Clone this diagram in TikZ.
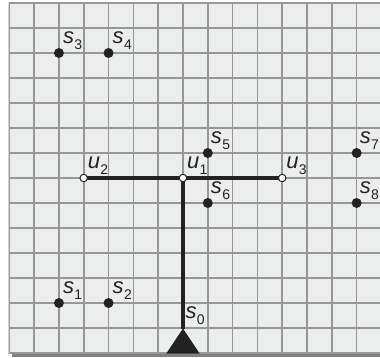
\documentclass[tikz,border=0pt]{standalone}
\usepackage{fontspec}
\setmainfont{Liberation Sans}
\newcommand\lab[2]{{\fontsize{22}{22}\selectfont\itshape #1}\kern0.3pt\raisebox{-6pt}{\fontsize{14}{14}\selectfont #2}}
\definecolor{bgc}{HTML}{ECEDED}
\definecolor{gridc}{HTML}{979797}
\definecolor{inkc}{HTML}{222222}
\tikzset{
  gridline/.style={draw=gridc, line width=1.6pt},
  dot/.style={circle, fill=inkc, inner sep=0pt, minimum size=10pt},
  hollow/.style={circle, draw=inkc, fill=white, line width=1pt, inner sep=0pt, minimum size=7.5pt},
  thickline/.style={draw=inkc, line width=3.4pt},
  lbl/.style={inner sep=0pt, anchor=base west, text=inkc},
}
\begin{document}
\begin{tikzpicture}[x=1pt,y=1pt]
\useasboundingbox (0,0) rectangle (380,-357);
\begin{scope}[shift={(9.3,-3)}, x=24.81pt, y=-25pt]
  % shadow
  \fill[gridc!85!black] (0.1,14) rectangle (15.5,14.14);
  \fill[gridc!40!white] (-0.07,0) rectangle (0,14.1);
  \fill[bgc] (0,0) rectangle (15.5,14);
  \foreach \i in {0,...,15} \draw[gridline] (\i,0) -- (\i,14);
  \foreach \j in {0,...,14} \draw[gridline] (0,\j) -- (15.5,\j);
  % points
  \node[dot] (s1) at (2,12) {};
  \node[dot] (s2) at (4,12) {};
  \node[dot] (s3) at (2,2) {};
  \node[dot] (s4) at (4,2) {};
  \node[dot] (s5) at (8,6) {};
  \node[dot] (s6) at (8,8) {};
  \node[dot] (s7) at (14,6) {};
  \node[dot] (s8) at (14,8) {};
  \coordinate (s0) at (7,13.02);
  \coordinate (u1c) at (7,7);
  \coordinate (u2c) at (3,7);
  \coordinate (u3c) at (11,7);
  \draw[thickline] (u2c) -- (u3c);
  \draw[thickline] (u1c) -- (s0);
  \fill[inkc] (s0) -- ++(-16.7pt,-25pt) -- ++(33.4pt,0pt) -- cycle;
  \node[hollow] (u1) at (u1c) {};
  \node[hollow] (u2) at (u2c) {};
  \node[hollow] (u3) at (u3c) {};
  % labels
  \node[lbl] (l1) at ([shift={(4pt,10pt)}]s1.center) {\lab{s}{1}};
  \node[lbl] (l2) at ([shift={(4pt,10pt)}]s2.center) {\lab{s}{2}};
  \node[lbl] (l3) at ([shift={(4pt,10pt)}]s3.center) {\lab{s}{3}};
  \node[lbl] (l4) at ([shift={(4pt,10pt)}]s4.center) {\lab{s}{4}};
  \node[lbl] (l5) at ([shift={(3pt,10pt)}]s5.center) {\lab{s}{5}};
  \node[lbl] (l6) at ([shift={(3pt,10pt)}]s6.center) {\lab{s}{6}};
  \node[lbl] (l7) at ([shift={(3pt,10pt)}]s7.center) {\lab{s}{7}};
  \node[lbl] (l8) at ([shift={(3pt,10pt)}]s8.center) {\lab{s}{8}};
  \node[lbl] (l0) at ([shift={(2.5pt,10pt)}]s0) {\lab{s}{0}};
  \node[lbl] (lu1) at ([shift={(4pt,10pt)}]u1.center) {\lab{u}{1}};
  \node[lbl] (lu2) at ([shift={(4pt,10pt)}]u2.center) {\lab{u}{2}};
  \node[lbl] (lu3) at ([shift={(4pt,10pt)}]u3.center) {\lab{u}{3}};
\end{scope}
\end{tikzpicture}
\end{document}
